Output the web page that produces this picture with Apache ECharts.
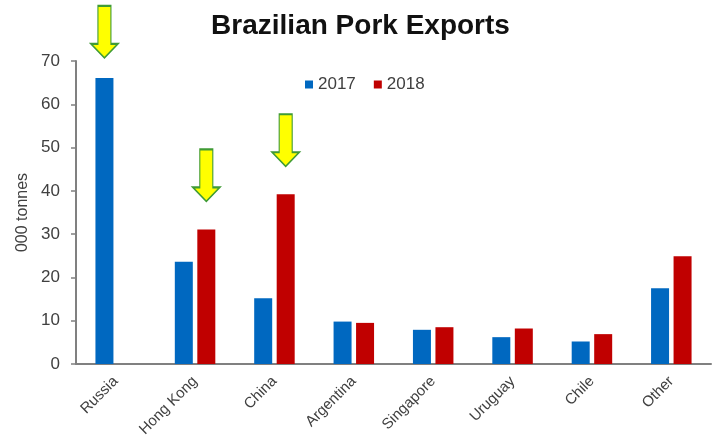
<!DOCTYPE html>
<html><head><meta charset="utf-8">
<script src="https://cdn.jsdelivr.net/npm/echarts@6/dist/echarts.min.js"></script>
<style>html,body{margin:0;padding:0;background:#fff}#c{width:721px;height:443px}</style>
</head><body><div id="c"></div>
<script>
var categories = ['Russia','Hong Kong','China','Argentina','Singapore','Uruguay','Chile','Other'];
var values2017 = [66.1, 23.6, 15.2, 9.8, 7.9, 6.2, 5.2, 17.5];
var values2018 = [0, 31.1, 39.2, 9.5, 8.5, 8.2, 6.9, 24.9];
var yTicks = {min: 0, max: 70, interval: 10};
// arrows: [series, category]
var arrows2017 = ['Russia'];
var arrows2018 = ['Hong Kong', 'China'];

var arrowPath = 'path://M7 0 L20 0 L20 38 L27 38 L13.5 52 L0 38 L7 38 Z';
function arrowMarks(list, vals) {
  return list.map(function (c) {
    var v = vals[categories.indexOf(c)];
    return {coord: [c, v], value: v};
  });
}
var font = 'Arial, "Liberation Sans", sans-serif';
var markStyle = {
  symbol: arrowPath, symbolSize: [27, 52], symbolKeepAspect: false,
  itemStyle: {color: '#ffff00', borderColor: '#3f9b35', borderWidth: 1.5},
  label: {show: false}, silent: true
};
var chart = echarts.init(document.getElementById('c'));
chart.setOption({
  animation: false,
  title: {text: 'Brazilian Pork Exports', left: 'center', top: 7,
    textStyle: {fontFamily: font, fontSize: 28, fontWeight: 'bold', color: '#111'}},
  legend: {data: ['2017', '2018'], top: 71, left: 300, itemWidth: 8, itemHeight: 8, itemGap: 18,
    icon: 'rect', textStyle: {fontFamily: font, fontSize: 17, color: '#404040'}},
  grid: {left: 76, right: 10, top: 61, bottom: 79, containLabel: false},
  xAxis: {type: 'category', data: categories,
    axisLine: {lineStyle: {color: '#808080', width: 2}},
    axisTick: {show: false},
    axisLabel: {rotate: 45, margin: 15, interval: 0, fontFamily: font, fontSize: 15, color: '#404040'}},
  yAxis: {type: 'value', min: yTicks.min, max: yTicks.max, interval: yTicks.interval,
    name: '000 tonnes', nameLocation: 'middle', nameGap: 45,
    nameTextStyle: {fontFamily: font, fontSize: 16, color: '#404040'},
    axisLine: {show: true, lineStyle: {color: '#808080', width: 2}},
    axisTick: {show: true, length: 5, lineStyle: {color: '#808080', width: 1.5}},
    splitLine: {show: false},
    axisLabel: {margin: 16, fontFamily: font, fontSize: 17, color: '#404040'}},
  series: [
    {name: '2017', type: 'bar', data: values2017, barWidth: 18, barGap: '25%',
      itemStyle: {color: '#0068c0'},
      markPoint: Object.assign({}, markStyle, {symbolOffset: [0, -46], data: arrowMarks(arrows2017, values2017)})},
    {name: '2018', type: 'bar', data: values2018, barWidth: 18, barGap: '25%',
      itemStyle: {color: '#c00000'},
      markPoint: Object.assign({}, markStyle, {symbolOffset: [0, -54], data: arrowMarks(arrows2018, values2018)})}
  ]
});
</script></body></html>
